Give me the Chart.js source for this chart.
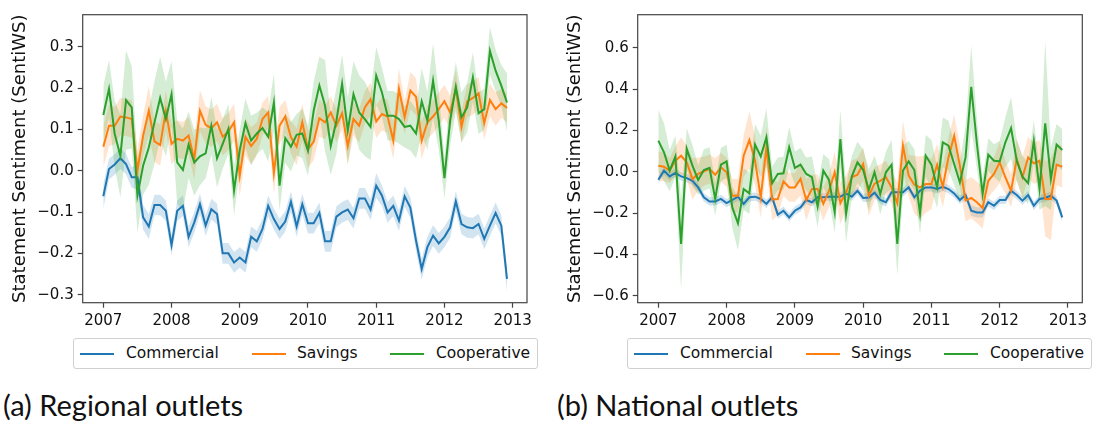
<!DOCTYPE html>
<html>
<head>
<meta charset="utf-8">
<script src="https://cdn.jsdelivr.net/npm/chart.js@4.4.0/dist/chart.umd.min.js"></script>
<style>
  body { margin: 0; background: #fff; width: 1095px; height: 421px; position: relative; overflow: hidden; }
  .panel { position: absolute; top: 0; }
  .legend { position: absolute; top: 338px; width: 463px; height: 29px; border: 1px solid #d0d0d0; border-radius: 3px;
            font-family: 'DejaVu Sans', sans-serif; font-size: 15.5px; color: #111; }
  .legend .swatch { position: absolute; top: 14px; width: 34px; height: 2px; }
  .legend .label { position: absolute; top: 5px; line-height: 18px; white-space: nowrap; }
  .caption { position: absolute; top: 390px; font-family: Lato, sans-serif; font-size: 29px; line-height: 30px; color: #111; white-space: nowrap; }
</style>
</head>
<body>
<div class="panel" style="left:0"><canvas id="regionalChart" width="555" height="335"></canvas></div>
<div class="panel" style="left:555px"><canvas id="nationalChart" width="540" height="335"></canvas></div>
<div class="legend" id="regionalLegend" style="left:73px"></div>
<div class="legend" id="nationalLegend" style="left:627px"></div>
<div class="caption" style="left:3px">(a) Regional outlets</div>
<div class="caption" style="left:557px">(b) National outlets</div>

<script>
const seriesNames = ["Commercial", "Savings", "Cooperative"];
const colors = ["#1f77b4", "#ff7f0e", "#2ca02c"];
const bandColors = ["rgba(31,119,180,0.2)", "rgba(255,127,14,0.2)", "rgba(44,160,44,0.2)"];
const startYear = 2007;
const yearTicks = [2007, 2008, 2009, 2010, 2011, 2012, 2013];
const regionalTicks = [-0.3, -0.2, -0.1, 0.0, 0.1, 0.2, 0.3];
const nationalTicks = [-0.6, -0.4, -0.2, 0.0, 0.2, 0.4, 0.6];
const yTitle = "Statement Sentiment (SentiWS)";

// monthly means, Jan 2007 .. Dec 2012 -- regional outlets
const regCommercial = [-0.062, 0.004, 0.015, 0.030, 0.016, -0.016, -0.016, -0.113, -0.135, -0.083, -0.083, -0.097,
  -0.180, -0.097, -0.085, -0.160, -0.125, -0.081, -0.133, -0.093, -0.105, -0.200, -0.200, -0.222,
  -0.210, -0.222, -0.160, -0.171, -0.141, -0.085, -0.117, -0.141, -0.123, -0.075, -0.135, -0.081,
  -0.127, -0.127, -0.102, -0.171, -0.171, -0.111, -0.101, -0.094, -0.115, -0.067, -0.067, -0.094,
  -0.036, -0.060, -0.101, -0.085, -0.121, -0.062, -0.089, -0.169, -0.238, -0.185, -0.157, -0.176,
  -0.160, -0.137, -0.074, -0.129, -0.137, -0.139, -0.129, -0.165, -0.133, -0.102, -0.133, -0.262];
const regSavings = [0.058, 0.109, 0.109, 0.131, 0.129, 0.125, 0.000, 0.085, 0.145, 0.071, 0.062, 0.144,
  0.065, 0.077, 0.073, 0.085, 0.028, 0.145, 0.111, 0.103, 0.117, 0.082, 0.095, 0.117,
  -0.012, 0.082, 0.060, 0.077, 0.125, 0.141, -0.006, 0.109, 0.131, 0.081, 0.058, 0.117,
  0.052, 0.070, 0.127, 0.117, 0.141, 0.109, 0.139, 0.060, 0.125, 0.109, 0.153, 0.173,
  0.119, 0.137, 0.131, 0.073, 0.198, 0.129, 0.194, 0.179, 0.073, 0.117, 0.131, 0.149,
  0.168, 0.141, 0.198, 0.106, 0.168, 0.176, 0.187, 0.115, 0.171, 0.149, 0.163, 0.152];
const regCooperative = [0.135, 0.198, 0.089, 0.036, 0.171, 0.153, -0.060, 0.012, 0.056, 0.117, 0.176, 0.125,
  0.185, 0.020, 0.002, 0.063, 0.020, 0.035, 0.042, 0.109, 0.030, 0.065, 0.101, -0.048,
  0.050, 0.115, 0.073, 0.090, 0.103, 0.082, 0.165, -0.036, 0.079, 0.058, 0.087, 0.090,
  0.048, 0.145, 0.206, 0.157, 0.060, 0.121, 0.210, 0.097, 0.185, 0.141, 0.125, 0.106,
  0.230, 0.190, 0.133, 0.133, 0.125, 0.106, 0.109, 0.090, 0.168, 0.121, 0.218, 0.121,
  -0.018, 0.121, 0.203, 0.129, 0.153, 0.226, 0.139, 0.149, 0.290, 0.242, 0.206, 0.165];

// half width of the shaded confidence band
const regCommercialCi = [0.03, 0.025, 0.025, 0.025, 0.025, 0.025, 0.03, 0.03, 0.03, 0.025, 0.025, 0.025,
  0.025, 0.025, 0.025, 0.025, 0.025, 0.025, 0.025, 0.025, 0.025, 0.025, 0.025, 0.025,
  0.025, 0.025, 0.025, 0.025, 0.025, 0.025, 0.025, 0.025, 0.025, 0.025, 0.025, 0.025,
  0.025, 0.025, 0.025, 0.025, 0.025, 0.025, 0.025, 0.025, 0.025, 0.025, 0.025, 0.025,
  0.03, 0.025, 0.025, 0.025, 0.025, 0.025, 0.025, 0.025, 0.025, 0.025, 0.025, 0.025,
  0.025, 0.025, 0.025, 0.025, 0.025, 0.025, 0.025, 0.025, 0.025, 0.025, 0.025, 0.03];
const regSavingsCi = [0.05, 0.05, 0.045, 0.045, 0.045, 0.045, 0.05, 0.05, 0.06, 0.05, 0.05, 0.05,
  0.05, 0.045, 0.045, 0.045, 0.05, 0.05, 0.045, 0.045, 0.045, 0.045, 0.045, 0.045,
  0.05, 0.045, 0.045, 0.04, 0.04, 0.04, 0.05, 0.045, 0.04, 0.04, 0.045, 0.045,
  0.045, 0.045, 0.045, 0.04, 0.04, 0.04, 0.04, 0.045, 0.04, 0.04, 0.04, 0.04,
  0.04, 0.04, 0.04, 0.045, 0.05, 0.04, 0.045, 0.045, 0.045, 0.04, 0.04, 0.04,
  0.04, 0.04, 0.045, 0.04, 0.04, 0.04, 0.04, 0.04, 0.04, 0.04, 0.035, 0.035];
const regCooperativeCi = [0.07, 0.07, 0.08, 0.10, 0.12, 0.10, 0.09, 0.07, 0.09, 0.10, 0.10, 0.09,
  0.08, 0.10, 0.10, 0.08, 0.08, 0.07, 0.06, 0.07, 0.07, 0.06, 0.06, 0.06,
  0.05, 0.06, 0.06, 0.05, 0.05, 0.06, 0.07, 0.06, 0.06, 0.06, 0.05, 0.06,
  0.06, 0.07, 0.07, 0.11, 0.07, 0.08, 0.07, 0.08, 0.08, 0.09, 0.09, 0.08,
  0.07, 0.06, 0.06, 0.06, 0.06, 0.05, 0.06, 0.06, 0.08, 0.07, 0.09, 0.07,
  0.05, 0.06, 0.06, 0.06, 0.06, 0.06, 0.05, 0.05, 0.057, 0.05, 0.05, 0.07];

// monthly means -- national outlets
const natCommercial = [-0.039, 0.005, -0.023, -0.006, -0.023, -0.031, -0.044, -0.076, -0.124, -0.144, -0.144, -0.132,
  -0.152, -0.137, -0.121, -0.156, -0.124, -0.121, -0.132, -0.156, -0.124, -0.208, -0.189, -0.221,
  -0.189, -0.173, -0.137, -0.148, -0.124, -0.124, -0.121, -0.121, -0.121, -0.105, -0.121, -0.092,
  -0.127, -0.125, -0.102, -0.137, -0.148, -0.100, -0.100, -0.100, -0.076, -0.124, -0.092, -0.076,
  -0.076, -0.084, -0.073, -0.084, -0.105, -0.137, -0.113, -0.189, -0.197, -0.197, -0.148, -0.165,
  -0.137, -0.137, -0.092, -0.113, -0.140, -0.113, -0.165, -0.132, -0.127, -0.116, -0.140, -0.221];
const natSavings = [0.029, 0.024, 0.005, 0.053, 0.077, 0.045, -0.035, -0.011, 0.002, 0.013, -0.015, 0.021,
  -0.003, -0.116, -0.116, 0.077, 0.153, 0.053, -0.124, 0.118, -0.135, -0.132, -0.047, -0.076,
  -0.076, -0.035, -0.137, -0.084, -0.084, -0.156, -0.092, -0.003, -0.153, -0.100, -0.027, -0.015,
  0.037, -0.116, -0.058, -0.044, -0.027, -0.076, -0.153, 0.126, -0.019, -0.063, -0.076, -0.060,
  -0.060, 0.034, -0.073, 0.069, 0.174, 0.029, -0.140, -0.127, -0.148, -0.176, -0.044, -0.011,
  0.045, -0.027, -0.092, 0.061, -0.027, 0.069, 0.040, 0.053, -0.132, -0.132, 0.034, 0.024];
const natCooperative = [0.150, 0.094, 0.005, 0.074, -0.350, 0.110, 0.029, -0.040, 0.008, 0.018, -0.132, 0.034,
  0.050, -0.173, -0.250, -0.084, -0.105, 0.131, 0.074, 0.166, -0.056, -0.011, -0.008, 0.118,
  0.018, 0.034, -0.011, -0.027, -0.169, 0.005, -0.040, -0.197, 0.158, -0.205, -0.024, 0.045,
  0.008, -0.088, -0.003, -0.108, -0.003, 0.034, -0.350, 0.005, 0.050, 0.008, -0.202, 0.077,
  0.034, -0.076, 0.142, 0.126, 0.037, -0.052, 0.069, 0.411, 0.134, -0.108, 0.082, 0.053,
  0.050, 0.142, 0.211, 0.053, -0.024, -0.056, 0.150, -0.084, 0.234, -0.035, 0.131, 0.105];

const natCommercialCi = [0.02, 0.02, 0.02, 0.02, 0.02, 0.02, 0.02, 0.02, 0.02, 0.02, 0.02, 0.02,
  0.02, 0.02, 0.02, 0.02, 0.02, 0.02, 0.02, 0.02, 0.02, 0.02, 0.02, 0.02,
  0.02, 0.02, 0.02, 0.02, 0.02, 0.02, 0.02, 0.02, 0.02, 0.02, 0.02, 0.02,
  0.02, 0.02, 0.02, 0.02, 0.02, 0.02, 0.02, 0.02, 0.02, 0.02, 0.02, 0.02,
  0.02, 0.02, 0.02, 0.02, 0.02, 0.02, 0.02, 0.025, 0.025, 0.025, 0.02, 0.02,
  0.02, 0.02, 0.02, 0.02, 0.02, 0.02, 0.02, 0.02, 0.02, 0.02, 0.02, 0.025];
const natSavingsCi = [0.07, 0.07, 0.06, 0.07, 0.09, 0.08, 0.10, 0.08, 0.07, 0.07, 0.08, 0.07,
  0.07, 0.08, 0.08, 0.10, 0.14, 0.12, 0.10, 0.10, 0.10, 0.08, 0.07, 0.07,
  0.07, 0.08, 0.10, 0.07, 0.07, 0.08, 0.08, 0.10, 0.10, 0.08, 0.08, 0.08,
  0.08, 0.10, 0.08, 0.08, 0.08, 0.08, 0.10, 0.12, 0.10, 0.14, 0.15, 0.14,
  0.12, 0.10, 0.10, 0.10, 0.10, 0.10, 0.10, 0.10, 0.10, 0.10, 0.08, 0.08,
  0.10, 0.08, 0.08, 0.10, 0.10, 0.10, 0.10, 0.10, 0.18, 0.20, 0.10, 0.10];
const natCooperativeCi = [0.15, 0.14, 0.10, 0.10, 0.22, 0.10, 0.10, 0.07, 0.10, 0.10, 0.08, 0.08,
  0.08, 0.10, 0.13, 0.10, 0.10, 0.10, 0.10, 0.14, 0.08, 0.08, 0.08, 0.10,
  0.08, 0.08, 0.08, 0.10, 0.10, 0.08, 0.10, 0.10, 0.14, 0.14, 0.10, 0.10,
  0.10, 0.10, 0.08, 0.10, 0.10, 0.12, 0.15, 0.12, 0.10, 0.10, 0.10, 0.10,
  0.12, 0.10, 0.12, 0.12, 0.10, 0.10, 0.15, 0.20, 0.12, 0.08, 0.08, 0.08,
  0.10, 0.12, 0.15, 0.10, 0.10, 0.10, 0.10, 0.10, 0.40, 0.15, 0.10, 0.10];

const monthX = regCommercial.map((_, i) => startYear + i / 12);

Chart.defaults.font.family = "'DejaVu Sans', sans-serif";
Chart.defaults.font.size = 15;
Chart.defaults.color = "#111";

function fmtTick(v) {
  if (Math.abs(v) < 1e-9) return "0.0";
  return (v < 0 ? "\u2212" : "") + Math.abs(v).toFixed(1);
}

const framePlugin = {
  id: "frame",
  afterDraw(chart) {
    const { ctx, chartArea: a } = chart;
    ctx.save();
    ctx.strokeStyle = "#444";
    ctx.lineWidth = 1.2;
    ctx.strokeRect(a.left, a.top, a.right - a.left, a.bottom - a.top);
    ctx.restore();
  }
};

function buildDatasets(series, cis) {
  const lines = [];
  const bands = [];
  series.forEach((vals, s) => {
    lines.push({
      label: seriesNames[s],
      data: vals.map((v, i) => ({ x: monthX[i], y: v })),
      borderColor: colors[s],
      backgroundColor: colors[s],
      borderWidth: 2,
      pointRadius: 0,
      tension: 0,
      fill: false,
      order: 2 - s
    });
  });
  series.forEach((vals, s) => {
    bands.push({
      label: seriesNames[s] + " upper",
      data: vals.map((v, i) => ({ x: monthX[i], y: v + cis[s][i] })),
      borderWidth: 0,
      pointRadius: 0,
      backgroundColor: bandColors[s],
      fill: "+1",
      order: 5 - s
    });
    bands.push({
      label: seriesNames[s] + " lower",
      data: vals.map((v, i) => ({ x: monthX[i], y: v - cis[s][i] })),
      borderWidth: 0,
      pointRadius: 0,
      backgroundColor: bandColors[s],
      fill: false,
      order: 5 - s
    });
  });
  return lines.concat(bands);
}

function makeChart(canvasId, series, cis, yMin, yMax, yTicks, rightPad) {
  new Chart(document.getElementById(canvasId), {
    type: "line",
    data: { datasets: buildDatasets(series, cis) },
    plugins: [framePlugin],
    options: {
      responsive: false,
      animation: false,
      layout: { padding: { left: 0, top: 14.7, right: rightPad, bottom: 0 } },
      plugins: { legend: { display: false }, tooltip: { enabled: false } },
      scales: {
        x: {
          type: "linear",
          min: 2006.698,
          max: 2013.21,
          afterBuildTicks: s => { s.ticks = yearTicks.map(v => ({ value: v })); },
          afterFit: s => { s.height = 32.3; },
          ticks: { callback: v => String(v), color: "#111", padding: 4, maxRotation: 0 },
          grid: { drawOnChartArea: false, drawTicks: true, tickLength: 5, color: "#444", tickWidth: 1.2 },
          border: { display: false }
        },
        y: {
          min: yMin,
          max: yMax,
          afterBuildTicks: s => { s.ticks = yTicks.map(v => ({ value: v })); },
          afterFit: s => { s.width = 82.7; },
          ticks: { callback: v => fmtTick(v), color: "#111", padding: 4 },
          grid: { drawOnChartArea: false, drawTicks: true, tickLength: 5, color: "#444", tickWidth: 1.2 },
          border: { display: false },
          title: { display: true, text: yTitle, font: { size: 18 }, color: "#111", padding: { top: 9.7, bottom: 0 } }
        }
      }
    }
  });
}

function makeLegend(id) {
  const box = document.getElementById(id);
  const swatchLeft = [6, 178, 316];
  const labelLeft = [52, 223, 362];
  seriesNames.forEach((name, s) => {
    const sw = document.createElement("div");
    sw.className = "swatch";
    sw.style.left = swatchLeft[s] + "px";
    sw.style.background = colors[s];
    box.appendChild(sw);
    const lb = document.createElement("div");
    lb.className = "label";
    lb.style.left = labelLeft[s] + "px";
    lb.textContent = name;
    box.appendChild(lb);
  });
}

makeChart("regionalChart", [regCommercial, regSavings, regCooperative],
  [regCommercialCi, regSavingsCi, regCooperativeCi], -0.3194, 0.3775, regionalTicks, 28);
makeChart("nationalChart", [natCommercial, natSavings, natCooperative],
  [natCommercialCi, natSavingsCi, natCooperativeCi], -0.634, 0.7596, nationalTicks, 12.7);
makeLegend("regionalLegend");
makeLegend("nationalLegend");
</script>
</body>
</html>
